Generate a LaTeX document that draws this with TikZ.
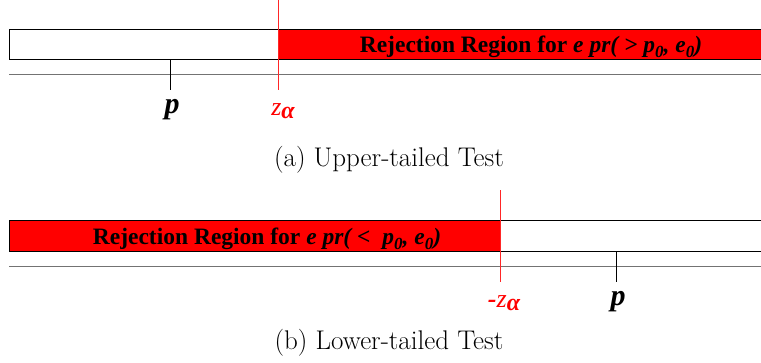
\documentclass[tikz,border=0pt]{standalone}
\usepackage{fontspec}
\newfontfamily\timesfont{Liberation Serif}
\newcommand{\subzero}{\raisebox{-0.5ex}{\fontsize{17}{19}\selectfont 0}}
\newcommand{\subalpha}{\raisebox{-0.3ex}{\bfseries\itshape\fontsize{24}{28}\selectfont α}}
\begin{document}
\begin{tikzpicture}[x=1pt,y=-1pt,
  barline/.style={draw=black,line width=0.9pt},
  axisline/.style={draw=black!55,line width=1.6pt},
  tickline/.style={draw=black,line width=0.9pt},
  critline/.style={draw=red!85,line width=0.8pt},
  rejtext/.style={font=\timesfont\bfseries\fontsize{23.5}{26}\selectfont,inner sep=0pt,anchor=base},
  varlabel/.style={font=\timesfont\bfseries\itshape\fontsize{30}{34}\selectfont,inner sep=0pt,anchor=base},
  critlabel/.style={font=\timesfont\itshape\fontsize{26}{30}\selectfont,text=red,inner sep=0pt,anchor=base},
  captext/.style={font=\fontsize{27}{32}\selectfont,inner sep=0pt,anchor=base}]
\useasboundingbox (0,0) rectangle (761,362);

% upper-tailed test
\coordinate (aL) at (9,29);
\coordinate (aR) at (762,59);
\coordinate (aCtop) at (278,0);
\coordinate (aCbot) at (278,90);
\coordinate (aPtop) at (170,59);
\coordinate (aPbot) at (170,90);
\fill[red] (278,29) rectangle (aR);
\draw[barline] (aL) rectangle (aR);
\draw[barline] (278,29) -- (278,59);
\draw[axisline] (9,74.5) -- (762,74.5);
\draw[tickline] (aPtop) -- (aPbot);
\draw[critline] (aCtop) -- (aCbot);
\node[rejtext] (aRej) at (531,52) {Rejection Region for \itshape e pr( > p\subzero, e\subzero)};
\node[varlabel] (aP) at (172,113) {p};
\node[critlabel] (aZ) at (283,115) {z\subalpha};
\node[captext] (aCap) at (389,166) {(a) Upper-tailed Test};

% lower-tailed test
\coordinate (bL) at (9,220);
\coordinate (bR) at (762,251);
\coordinate (bCtop) at (500.5,190);
\coordinate (bCbot) at (500.5,282);
\coordinate (bPtop) at (616,251);
\coordinate (bPbot) at (616,282);
\fill[red] (bL) rectangle (500.5,251);
\draw[barline] (bL) rectangle (bR);
\draw[barline] (500.5,220) -- (500.5,251);
\draw[axisline] (9,266.5) -- (762,266.5);
\draw[tickline] (bPtop) -- (bPbot);
\draw[critline] (bCtop) -- (bCbot);
\node[rejtext] (bRej) at (267,244) {Rejection Region for \itshape e pr( < \ p\subzero, e\subzero)};
\node[varlabel] (bP) at (618,305) {p};
\node[critlabel] (bZ) at (504,307) {{\bfseries -}z\subalpha};
\node[captext] (bCap) at (389,349) {(b) Lower-tailed Test};
\end{tikzpicture}
\end{document}
